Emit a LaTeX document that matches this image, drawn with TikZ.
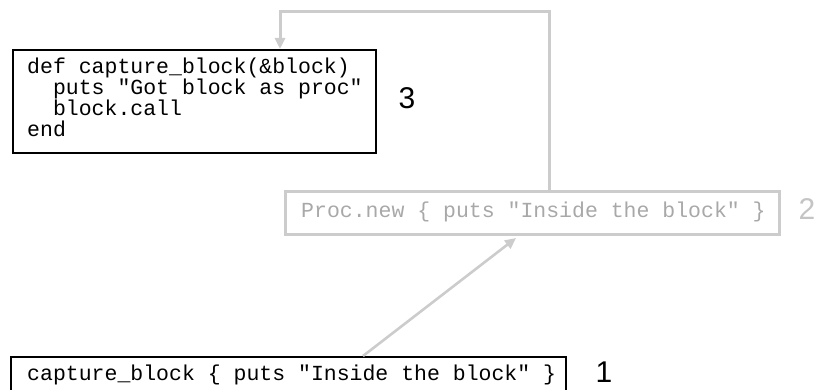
\documentclass[tikz,border=0pt]{standalone}
\usepackage{fontspec}
\setmainfont{Liberation Sans}
\newfontfamily\codefont{Liberation Mono}
\usetikzlibrary{arrows.meta}
\definecolor{linegray}{HTML}{CCCCCC}
\definecolor{textgray}{HTML}{A8A8A8}
\definecolor{labelgray}{HTML}{C4C4C4}
\tikzset{
  codebox/.style={draw=black, line width=2pt, anchor=north west, inner xsep=0pt, inner ysep=0pt},
  fadedbox/.style={codebox, draw=linegray, line width=3pt},
  codetext/.style={anchor=base west, inner sep=0pt, font=\codefont\fontsize{21.5}{21.3}\selectfont, align=left},
  numlabel/.style={font=\fontsize{30}{30}\selectfont, inner sep=0pt},
  grayline/.style={draw=linegray, line width=3pt},
  graytip/.style={-{Triangle[length=11pt,width=10pt]}}
}
\begin{document}
\begin{tikzpicture}[x=1pt,y=-1pt]
\useasboundingbox (0,0) rectangle (817,390);
% box 3
\node[codebox, minimum width=363pt, minimum height=103pt] (b3) at (12,49) {};
\node[codetext] (t3) at (27,137)
  {def capture\_block(\&block)\\
  \ \ puts "Got block as proc"\\
  \ \ block.call\\
  end};
\node[numlabel] (n3) at (407,98) {3};
% box 2
\node[fadedbox, minimum width=494pt, minimum height=43pt] (b2) at (284,190) {};
\node[codetext, text=textgray] (t2) at (301,218)
  {Proc.new \{ puts "Inside the block" \}};
\node[numlabel, text=labelgray] (n2) at (807,209) {2};
% box 1
\node[codebox, minimum width=555pt, minimum height=40pt] (b1) at (10,356) {};
\node[codetext] (t1) at (27,380)
  {capture\_block \{ puts "Inside the block" \}};
\node[numlabel] (n1) at (604,372) {1};
% connectors
\coordinate (r) at (549,12);
\coordinate (l) at (280,12);
\coordinate (d) at (516,238);
\coordinate (s) at (363,0);
\draw[grayline, graytip] (b2.north -| r) -- (r) -- (l) -- (b3.north -| l);
\draw[draw=linegray, line width=2.6pt, graytip] (b1.north -| s) -- (d);
\end{tikzpicture}
\end{document}
